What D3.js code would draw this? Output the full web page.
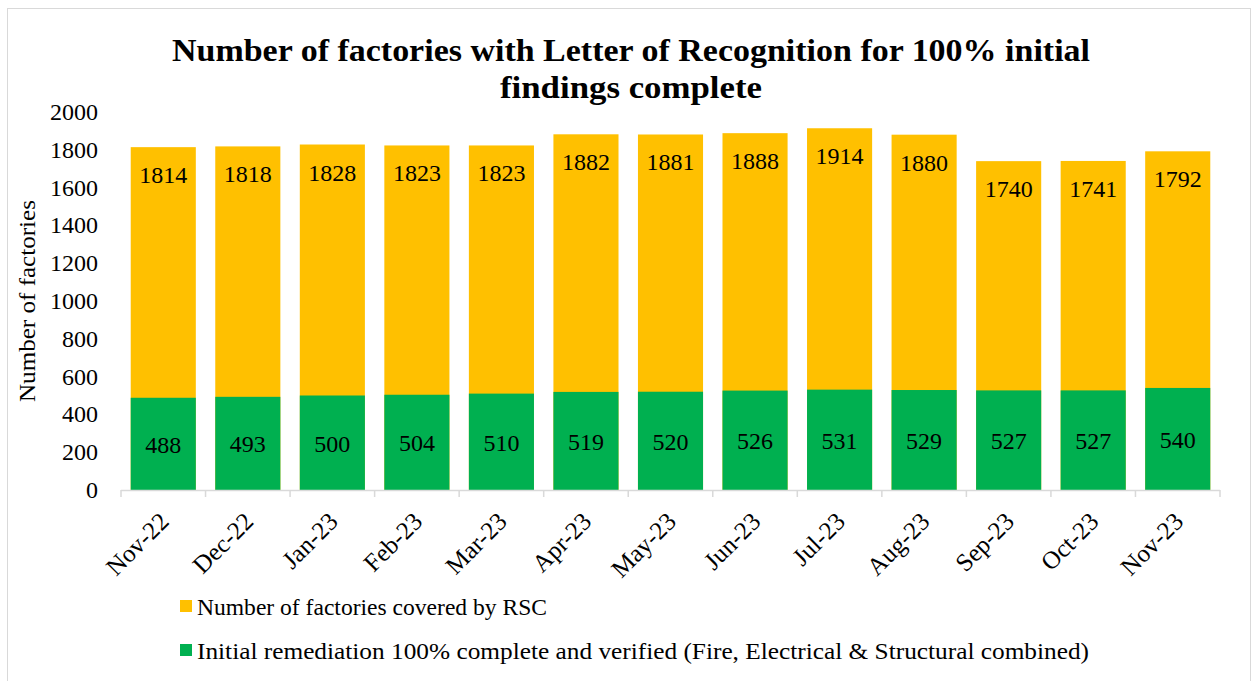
<!DOCTYPE html>
<html><head><meta charset="utf-8">
<script src="https://cdn.jsdelivr.net/npm/d3@7"></script>
<style>body{margin:0;background:#fff}svg{display:block}text{font-family:"Liberation Serif",serif;fill:#000}</style>
</head><body><svg id="c" width="1258" height="681"></svg>
<script>
const months=["Nov-22","Dec-22","Jan-23","Feb-23","Mar-23","Apr-23","May-23","Jun-23","Jul-23","Aug-23","Sep-23","Oct-23","Nov-23"];
const covered=[1814,1818,1828,1823,1823,1882,1881,1888,1914,1880,1740,1741,1792];
const complete=[488,493,500,504,510,519,520,526,531,529,527,527,540];
const yTicks=[0,200,400,600,800,1000,1200,1400,1600,1800,2000];
const seriesNames=["Number of factories covered by RSC","Initial remediation 100% complete and verified (Fire, Electrical & Structural combined)"];
const colors=["#FFC000","#00B050"];
const titleLines=["Number of factories with Letter of Recognition for 100% initial","findings complete"];

const svg=d3.select("#c");
svg.append("rect").attr("x",7.5).attr("y",8.5).attr("width",1243).attr("height",690).attr("fill","#fff").attr("stroke","#d9d9d9");
const x=d3.scaleBand().domain(months).range([121,1220]).paddingInner(0.23).paddingOuter(0.115);
const y=d3.scaleLinear().domain([0,2000]).range([490,112]);

const titleW=[918,262];
svg.append("g").selectAll("text").data(titleLines).join("text")
 .attr("x",631).attr("y",(d,i)=>61+i*37).attr("text-anchor","middle")
 .attr("textLength",(d,i)=>titleW[i]).attr("lengthAdjust","spacingAndGlyphs")
 .style("font-weight","bold").style("font-size","32px").text(d=>d);

svg.append("g").selectAll("text").data(yTicks).join("text")
 .attr("x",98).attr("y",d=>y(d)+8).attr("text-anchor","end").style("font-size","24px").text(d=>d);

svg.append("text").attr("transform","translate(35,301) rotate(-90)").attr("text-anchor","middle")
 .attr("textLength",202).attr("lengthAdjust","spacingAndGlyphs")
 .style("font-size","24px").text("Number of factories");

svg.append("g").selectAll("rect").data(covered).join("rect")
 .attr("x",(d,i)=>x(months[i])).attr("width",x.bandwidth()).attr("y",d=>y(d)).attr("height",d=>y(0)-y(d)).attr("fill",colors[0]);
svg.append("g").selectAll("rect").data(complete).join("rect")
 .attr("x",(d,i)=>x(months[i])).attr("width",x.bandwidth()).attr("y",d=>y(d)).attr("height",d=>y(0)-y(d)).attr("fill",colors[1]);

svg.append("g").selectAll("text").data(covered).join("text")
 .attr("x",(d,i)=>x(months[i])+x.bandwidth()/2).attr("y",d=>y(d)+36).attr("text-anchor","middle").style("font-size","24px").text(d=>d);
svg.append("g").selectAll("text").data(complete).join("text")
 .attr("x",(d,i)=>x(months[i])+x.bandwidth()/2).attr("y",d=>(y(d)+y(0))/2+9).attr("text-anchor","middle").style("font-size","24px").text(d=>d);

// x axis
const ax=svg.append("g");
ax.append("line").attr("x1",121).attr("x2",1220).attr("y1",490.5).attr("y2",490.5).attr("stroke","#d9d9d9").attr("stroke-width",1.5);
const bounds=months.map(m=>x(m)-x.step()*x.paddingInner()/2).concat([1220]);
ax.selectAll("line.t").data(bounds).join("line").attr("class","t")
 .attr("x1",d=>d).attr("x2",d=>d).attr("y1",490).attr("y2",497).attr("stroke","#d9d9d9").attr("stroke-width",1.5);
ax.selectAll("text").data(months).join("text")
 .attr("transform",m=>`translate(${x(m)+x.bandwidth()/2+7},${523}) rotate(-45)`)
 .attr("text-anchor","end").style("font-size","25px").text(d=>d);

const legendW=[350,892];
const lg=svg.append("g");
seriesNames.forEach((n,i)=>{
  lg.append("rect").attr("x",180).attr("y",600+i*44).attr("width",12).attr("height",12).attr("fill",colors[i]);
  lg.append("text").attr("x",197).attr("y",615+i*44).attr("textLength",legendW[i]).attr("lengthAdjust","spacingAndGlyphs")
    .style("font-size","24px").text(n);
});
</script></body></html>
